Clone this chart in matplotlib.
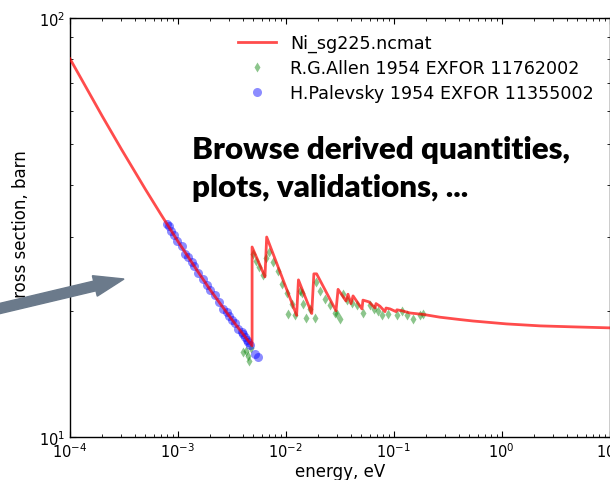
import numpy as np
import matplotlib
matplotlib.use("Agg")
import matplotlib.pyplot as plt
from matplotlib.patches import FancyArrow
from matplotlib.transforms import IdentityTransform
from matplotlib.ticker import NullFormatter

# NCrystal curve for Ni
energy_ncmat = [1e-4, 2e-4, 3e-4, 5e-4, 7e-4, 1e-3, 1.5e-3, 2e-3, 3e-3, 4e-3,
                4.87e-3, 4.87e-3, 6.41e-3, 6.65e-3, 1.26e-2, 1.31e-2, 1.74e-2, 1.82e-2, 1.93e-2,
                2.92e-2, 3.05e-2, 3.61e-2, 3.77e-2, 4.02e-2, 4.20e-2, 5.08e-2, 5.19e-2, 5.90e-2,
                6.71e-2, 6.86e-2, 7.46e-2, 8.30e-2, 8.49e-2, 9.25e-2, 0.105, 0.107, 0.119, 0.142,
                0.187, 0.268, 0.411, 0.543, 1.11, 2.27, 4.59, 10.0]
xsect_ncmat = [80.0, 58.2, 48.6, 39.0, 33.9, 29.3, 25.0, 22.4, 19.4, 17.6,
               16.5, 28.4, 24.1, 30.0, 19.5, 23.7, 19.7, 24.5, 24.5,
               20.0, 22.5, 21.1, 21.9, 20.8, 21.7, 20.2, 21.2, 21.0,
               20.3, 20.8, 20.5, 19.9, 20.3, 20.2, 19.9, 20.1, 20.0, 19.75,
               19.6, 19.3, 19.05, 18.9, 18.6, 18.4, 18.3, 18.2]

# R.G.Allen 1954
energy_allen = [4.01e-3, 4.28e-3, 4.46e-3, 4.56e-3, 4.76e-3, 4.97e-3, 5.29e-3, 5.64e-3, 6.15e-3,
                6.51e-3, 7.0e-3, 7.66e-3, 8.52e-3, 9.16e-3, 1.019e-2, 1.041e-2, 1.134e-2, 1.217e-2,
                1.354e-2, 1.40e-2, 1.453e-2, 1.539e-2, 1.676e-2, 1.865e-2, 1.905e-2, 2.075e-2,
                2.31e-2, 2.57e-2, 2.86e-2, 2.96e-2, 3.18e-2, 3.41e-2, 3.7e-2, 4.08e-2, 4.54e-2,
                5.23e-2, 6.03e-2, 6.5e-2, 7.20e-2, 7.74e-2, 8.91e-2, 0.1066, 0.1187, 0.132,
                0.152, 0.1753, 0.1881]
xsect_allen = [15.9, 16.0, 15.6, 15.2, 16.3, 27.3, 26.3, 25.4, 24.4,
               26.8, 27.6, 26.1, 24.9, 23.2, 22.1, 19.6, 20.8, 19.5,
               22.3, 22.0, 20.8, 19.2, 20.2, 19.2, 23.4, 22.3,
               21.3, 20.6, 19.8, 19.6, 19.1, 21.9, 21.2, 20.9, 20.6,
               19.8, 20.6, 20.2, 20.0, 19.5, 19.6, 19.5, 20.0, 19.5,
               19.1, 19.5, 19.6]

# H.Palevsky 1954
energy_pal = [7.87e-4, 8.2e-4, 8.58e-4, 9.20e-4, 9.75e-4, 1.085e-3, 1.164e-3, 1.25e-3, 1.342e-3,
              1.42e-3, 1.546e-3, 1.72e-3, 1.86e-3, 1.984e-3, 2.207e-3, 2.40e-3, 2.635e-3, 2.834e-3,
              3.0e-3, 3.152e-3, 3.382e-3, 3.628e-3, 3.9e-3, 4.037e-3, 4.2e-3, 4.398e-3, 4.5e-3,
              4.658e-3, 5.18e-3, 5.49e-3]
xsect_pal = [32.3, 31.8, 31.0, 30.4, 29.4, 28.5, 27.4, 26.9, 26.2,
             25.6, 24.6, 23.8, 23.0, 22.4, 21.8, 21.0, 20.2, 19.9,
             19.4, 19.0, 18.7, 18.1, 17.8, 17.6, 17.3, 17.0, 16.8,
             16.6, 15.8, 15.5]

plt.rcParams['font.family'] = 'DejaVu Sans'
plt.rcParams['font.size'] = 12
plt.rcParams['xtick.direction'] = 'in'
plt.rcParams['ytick.direction'] = 'in'
plt.rcParams['xtick.top'] = True
plt.rcParams['ytick.right'] = True
plt.rcParams['xtick.major.size'] = 4
plt.rcParams['ytick.major.size'] = 4
plt.rcParams['xtick.minor.size'] = 2
plt.rcParams['ytick.minor.size'] = 2
plt.rcParams['xtick.labelsize'] = 10.5
plt.rcParams['ytick.labelsize'] = 10.5

fig = plt.figure(figsize=(6.1, 4.81), dpi=100)
ax = fig.add_axes([70 / 610, 43.3 / 481, 539.5 / 610, 418.5 / 481])

ax.plot(energy_ncmat, xsect_ncmat, color='red', lw=2, alpha=0.7, label='Ni_sg225.ncmat', zorder=3)
ax.plot(energy_allen, xsect_allen, 'd', color='green', alpha=0.45, ms=5.5, mec='none',
        label='R.G.Allen 1954 EXFOR 11762002', zorder=2)
ax.plot(energy_pal, xsect_pal, 'o', color='blue', alpha=0.45, ms=6.5, mec='none',
        label='H.Palevsky 1954 EXFOR 11355002', zorder=2)

ax.set_xscale('log')
ax.set_yscale('log')
ax.set_xlim(1e-4, 10)
ax.set_ylim(10, 100)
ax.yaxis.set_minor_formatter(NullFormatter())
ax.xaxis.set_minor_formatter(NullFormatter())
ax.set_xlabel('energy, eV', labelpad=1)
ax.set_ylabel('cross section, barn')
ax.yaxis.set_label_coords(-0.075, 0.5)
for s in ax.spines.values():
    s.set_linewidth(1.0)

ax.legend(loc='upper right', frameon=False, numpoints=1, handlelength=2.2,
          labelspacing=0.4, fontsize=12.6)

# overlay caption (last line's baseline is the anchor)
fig.text(192 / 610, 1 - 197 / 481, 'Browse derived quantities,\nplots, validations, ...',
         fontsize=22.5, family='Lato', weight='heavy', ha='left', va='baseline',
         linespacing=1.42, color='black')

arr = FancyArrow(-22, 166.3, 146, 34.7, width=10, head_width=21, head_length=30,
                 length_includes_head=True, color='#6b7a8b', transform=IdentityTransform(),
                 zorder=10)
fig.add_artist(arr)

fig.savefig('out.png', dpi=100)
